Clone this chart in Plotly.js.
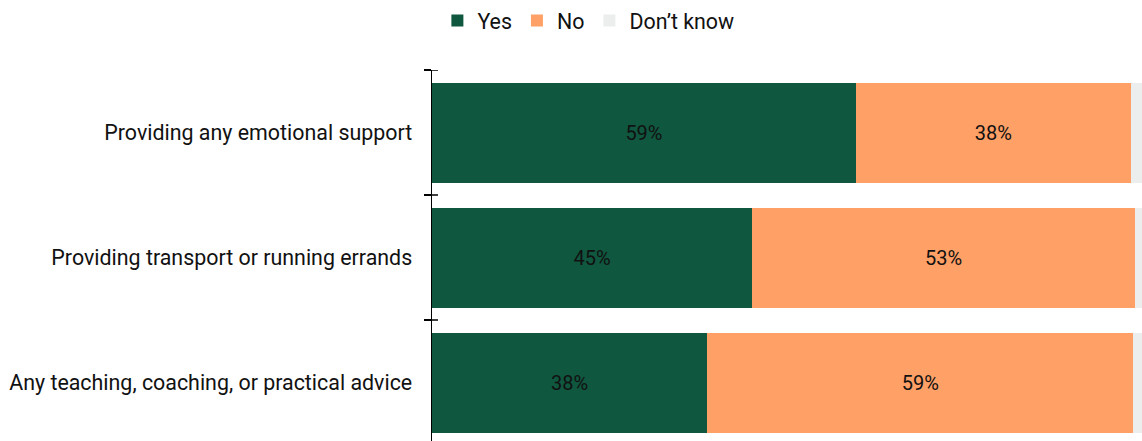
<!DOCTYPE html>
<html>
<head>
<meta charset="utf-8">
<script src="https://cdn.plot.ly/plotly-3.0.1.min.js"></script>
<style>html,body{margin:0;padding:0;background:#fff;}#chart{width:1142px;height:441px;}</style>
</head>
<body>
<div id="chart"></div>
<script>
const categories = [
  "Providing any emotional support",
  "Providing transport or running errands",
  "Any teaching, coaching, or practical advice"
];
const yesValues = [59.2, 44.7, 38.45];
const noValues = [38.4, 53.49, 59.49];
const dkValues = [2.4, 1.8, 2.1];
const seriesNames = ["Yes", "No", "Don\u2019t know"];
const seriesColors = ["#10573f", "#ffa066", "#ebeeed"];

function pct(arr) { return arr.map(v => Math.round(v) + "%"); }

const allValues = [yesValues, noValues, dkValues];
const traces = allValues.map((vals, i) => ({
  type: "bar",
  orientation: "h",
  name: seriesNames[i],
  y: categories,
  x: vals,
  width: 0.8,
  marker: {color: seriesColors[i], line: {width: 0}},
  text: i < 2 ? pct(vals) : vals.map(() => ""),
  textposition: i < 2 ? "inside" : "none",
  insidetextanchor: "middle",
  textfont: {family: "Roboto, sans-serif", size: 20, color: "#111111"},
  hoverinfo: "none"
}));

const tickShapes = [-0.5, 0.5, 1.5].map(yv => ({
  type: "line", xref: "paper", yref: "y", xsizemode: "pixel", xanchor: 0,
  x0: 0, x1: 6, y0: yv, y1: yv, line: {color: "#000", width: 1.5}, layer: "above"
}));

const layout = {
  width: 1142, height: 441,
  margin: {l: 432, r: 0, t: 70, b: 0, pad: 0},
  barmode: "stack",
  paper_bgcolor: "#fff", plot_bgcolor: "#fff",
  font: {family: "Roboto, sans-serif", size: 21.4, color: "#111"},
  showlegend: true,
  legend: {
    orientation: "h", xref: "container", yref: "container",
    x: 0.383, xanchor: "left", y: 1.0, yanchor: "top",
    font: {family: "Roboto, sans-serif", size: 21.4, color: "#111"},
    traceorder: "normal", itemwidth: 30
  },
  xaxis: {range: [0, 99.16], visible: false, fixedrange: true},
  yaxis: {
    type: "category",
    range: [2.468, -0.5],
    showline: true, linecolor: "#000", linewidth: 1.5,
    ticks: "outside", ticklen: 7, tickcolor: "#000", tickwidth: 1.5,
    tickson: "boundaries",
    ticklabelstandoff: 14,
    showgrid: false, zeroline: false,
    tickfont: {family: "Roboto, sans-serif", size: 21.4, color: "#111"}
  },
  shapes: tickShapes
};

Plotly.newPlot("chart", traces, layout, {displayModeBar: false, staticPlot: true});
</script>
</body>
</html>
